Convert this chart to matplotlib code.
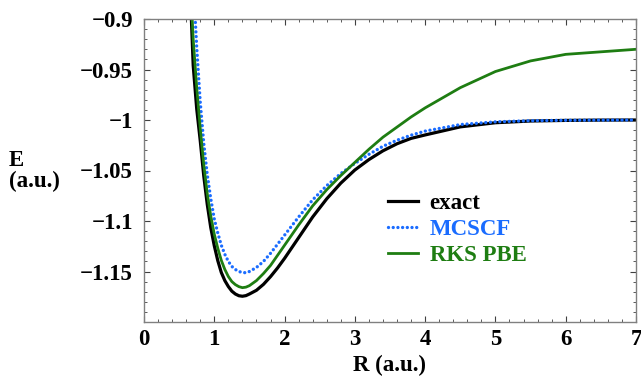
import numpy as np
import matplotlib
matplotlib.use("Agg")
import matplotlib.pyplot as plt
from matplotlib.ticker import MultipleLocator

# H2 potential energy curves (hartree)
r_exact = [0.6, 0.7, 0.75, 0.8, 0.85, 0.9, 0.95, 1.0, 1.05, 1.1, 1.15, 1.2, 1.25,
           1.3, 1.35, 1.4, 1.45, 1.5, 1.6, 1.7, 1.8, 1.9, 2.0, 2.2, 2.4, 2.6,
           2.8, 3.0, 3.2, 3.4, 3.6, 3.8, 4.0, 4.5, 5.0, 5.5, 6.0, 6.5, 7.0]
e_exact = [-0.7696, -0.946, -0.989, -1.0204, -1.0552, -1.0836, -1.1066, -1.1245,
           -1.1393, -1.1510, -1.1590, -1.1649, -1.1695, -1.1723, -1.1740, -1.1745,
           -1.1739, -1.1723, -1.1686, -1.1627, -1.1551, -1.1465, -1.1370, -1.1165,
           -1.0960, -1.0780, -1.0625, -1.0495, -1.0392, -1.0305, -1.0235, -1.0182,
           -1.0148, -1.0068, -1.0027, -1.0010, -1.0004, -1.0001, -1.0000]

r_mcscf = [0.6, 0.7, 0.75, 0.8, 0.85, 0.9, 0.95, 1.0, 1.05, 1.1, 1.15, 1.2, 1.25,
           1.3, 1.35, 1.4, 1.45, 1.5, 1.6, 1.7, 1.8, 1.9, 2.0, 2.2, 2.4, 2.6,
           2.8, 3.0, 3.2, 3.4, 3.6, 3.8, 4.0, 4.5, 5.0, 5.5, 6.0, 6.5, 7.0]
e_mcscf = [-0.700, -0.862, -0.928, -0.982, -1.023, -1.054, -1.078, -1.098,
           -1.112, -1.124, -1.133, -1.140, -1.145, -1.148, -1.150, -1.151,
           -1.1512, -1.150, -1.146, -1.140, -1.132, -1.123, -1.114, -1.096,
           -1.079, -1.065, -1.053, -1.043, -1.034, -1.026, -1.020, -1.015,
           -1.011, -1.0045, -1.0018, -1.0007, -1.0003, -1.0001, -1.0000]

r_pbe = [0.6, 0.7, 0.75, 0.8, 0.85, 0.9, 0.95, 1.0, 1.05, 1.1, 1.15, 1.2, 1.25,
         1.3, 1.35, 1.4, 1.45, 1.5, 1.6, 1.7, 1.8, 1.9, 2.0, 2.2, 2.4, 2.6,
         2.8, 3.0, 3.2, 3.4, 3.6, 3.8, 4.0, 4.5, 5.0, 5.5, 6.0, 7.0]
e_pbe = [-0.780, -0.920, -0.968, -1.008, -1.044, -1.073, -1.095, -1.113,
         -1.127, -1.139, -1.148, -1.155, -1.160, -1.163, -1.165, -1.166,
         -1.1655, -1.164, -1.159, -1.152, -1.144, -1.134, -1.124, -1.104,
         -1.085, -1.069, -1.055, -1.042, -1.029, -1.017, -1.007, -0.997,
         -0.988, -0.968, -0.952, -0.9415, -0.935, -0.930]

labels = ["exact", "MCSCF", "RKS PBE"]
colors = ["black", "#1a6cff", "#1e7d12"]

plt.rcParams['font.family'] = ['Liberation Serif', 'DejaVu Serif']
plt.rcParams['font.weight'] = 'bold'
fs = 16.5

fig = plt.figure(figsize=(6.41, 3.76), dpi=100)
ax = fig.add_axes([144/641, 1 - 322/376, 492/641, 303/376])

ax.plot(r_exact, e_exact, color=colors[0], lw=2.3, label=labels[0])
ax.plot(r_mcscf, e_mcscf, color=colors[1], lw=2.4, linestyle=(0, (0.01, 1.4)),
        dash_capstyle='round', label=labels[1])
ax.plot(r_pbe, e_pbe, color=colors[2], lw=2.0, label=labels[2])

ax.set_xlim(0, 7)
ax.set_ylim(-1.2, -0.9)
ax.xaxis.set_major_locator(MultipleLocator(1))
ax.xaxis.set_minor_locator(MultipleLocator(0.2))
ax.set_yticks([-1.15, -1.1, -1.05, -1.0, -0.95, -0.9])
ax.set_yticklabels(["\u22121.15", "\u22121.1", "\u22121.05", "\u22121", "\u22120.95", "\u22120.9"])
ax.yaxis.set_minor_locator(MultipleLocator(0.01))

for s in ax.spines.values():
    s.set_color("#808080")
    s.set_linewidth(1.0)
ax.tick_params(which='both', direction='in', top=True, right=True,
               color="#404040", labelsize=fs)
ax.tick_params(which='major', length=4, width=0.8)
ax.tick_params(which='minor', length=2, width=0.6)
ax.tick_params(axis='x', pad=5)
ax.tick_params(axis='y', pad=8)
for lab in ax.get_xticklabels() + ax.get_yticklabels():
    lab.set_fontweight('bold')

ax.set_xlabel("R (a.u.)", fontsize=fs, fontweight='bold', va='center')
ax.xaxis.set_label_coords(0.498, -0.145)
fig.text(9/641, 1 - 171/376, "E\n(a.u.)", fontsize=fs, fontweight='bold',
         ha='left', va='center', linespacing=1.0)

leg = ax.legend(loc='upper left', bbox_to_anchor=(0.455, 0.495), frameon=False,
                handlelength=1.3, handletextpad=0.5, labelspacing=0.22,
                prop={'size': fs, 'weight': 'bold'}, labelcolor=colors)

plt.savefig("out.png", dpi=100)
